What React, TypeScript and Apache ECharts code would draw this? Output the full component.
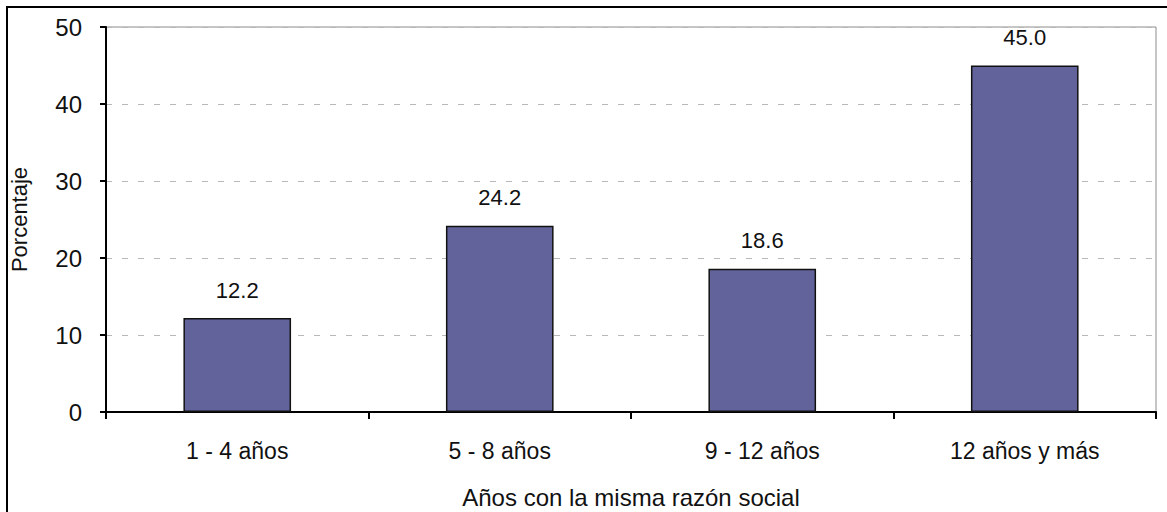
import React, { useEffect, useRef } from "react";
import * as echarts from "echarts";

const categories = ["1 - 4 años", "5 - 8 años", "9 - 12 años", "12 años y más"];
const values = [12.2, 24.2, 18.6, 45.0];
const yAxisTitle = "Porcentaje";
const xAxisTitle = "Años con la misma razón social";

const FONT = "'Liberation Sans', Arial, sans-serif";

export default function App() {
  const ref = useRef<HTMLDivElement>(null);
  useEffect(() => {
    if (!ref.current) return;
    const chart = echarts.init(ref.current, null, { renderer: "svg" });
    chart.setOption({
      animation: false,
      backgroundColor: "#ffffff",
      grid: {
        left: 106,
        top: 27,
        right: 11,
        bottom: 100,
        outerBoundsMode: "none",
        show: true,
        borderColor: "#8c8c8c",
        borderWidth: 1,
        backgroundColor: "transparent",
      },
      graphic: [
        { type: "line", shape: { x1: 7, y1: 6, x2: 7, y2: 512 }, style: { stroke: "#000", lineWidth: 2 } },
        { type: "line", shape: { x1: 6, y1: 7, x2: 1167, y2: 7 }, style: { stroke: "#000", lineWidth: 2 } },
      ],
      xAxis: {
        type: "category",
        data: categories,
        name: xAxisTitle,
        nameLocation: "middle",
        nameGap: 73,
        nameTextStyle: { fontFamily: FONT, fontSize: 24, color: "#111" },
        axisLine: { show: true, lineStyle: { color: "#000", width: 2 } },
        axisTick: { show: true, length: 7, lineStyle: { color: "#000", width: 2 } },
        axisLabel: { fontFamily: FONT, fontSize: 23, color: "#111", margin: 27 },
        splitLine: { show: false },
      },
      yAxis: {
        type: "value",
        min: 0,
        max: 50,
        interval: 10,
        name: yAxisTitle,
        nameLocation: "middle",
        nameGap: 76,
        nameRotate: 90,
        nameTextStyle: { fontFamily: FONT, fontSize: 22, color: "#111" },
        axisLine: { show: true, lineStyle: { color: "#000", width: 2 } },
        axisTick: { show: true, length: 6, lineStyle: { color: "#000", width: 2 } },
        axisLabel: { fontFamily: FONT, fontSize: 24, color: "#111", margin: 24 },
        splitLine: { show: true, lineStyle: { color: "#b8b8b8", type: [6, 10], width: 1 } },
      },
      series: [
        {
          type: "bar",
          data: values,
          barWidth: "41%",
          itemStyle: { color: "#63639b", borderColor: "#111", borderWidth: 1.5 },
          label: {
            show: true,
            position: "top",
            distance: 17,
            fontFamily: FONT,
            fontSize: 22,
            color: "#111",
            formatter: (p: any) => Number(p.value).toFixed(1),
          },
        },
      ],
    });
    return () => chart.dispose();
  }, []);
  return (
    <div
      ref={ref}
      style={{ position: "fixed", left: 0, top: 0, width: 1167, height: 512 }}
    />
  );
}
